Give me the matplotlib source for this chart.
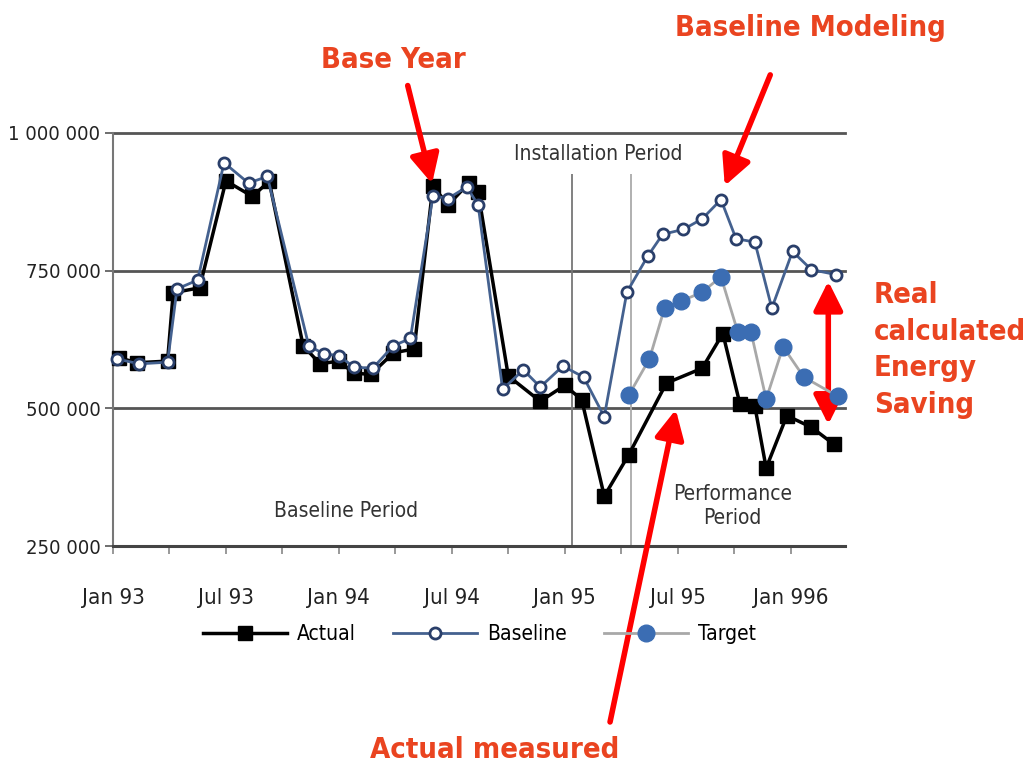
import matplotlib.pyplot as plt

# months since Jan 1993
base_x = [0.2, 1.4, 2.9, 3.4, 4.5, 5.9, 7.2, 8.2, 10.4, 11.2, 12.0, 12.8, 13.8,
          14.9, 15.8, 17.0, 17.8, 18.8, 19.4, 20.7, 21.8, 22.7, 23.9, 25.0,
          26.1, 27.3, 28.4, 29.2, 30.3, 31.3, 32.3, 33.1, 34.1, 35.0, 36.1,
          37.1, 38.4]
baseline = [590000, 581000, 584000, 717000, 733000, 946000, 909000, 921000,
            614000, 599000, 596000, 575000, 573000, 614000, 627000, 886000,
            881000, 902000, 869000, 535000, 570000, 539000, 577000, 557000,
            485000, 711000, 776000, 816000, 825000, 844000, 879000, 808000,
            802000, 682000, 785000, 752000, 743000]

act_x = [0.3, 1.3, 2.9, 3.2, 4.6, 6.0, 7.4, 8.3, 10.1, 11.0, 12.0, 12.8, 13.7,
         14.9, 16.0, 17.0, 17.8, 18.9, 19.4, 21.0, 22.7, 24.0, 24.9, 26.1,
         27.4, 29.4, 31.3, 32.4, 33.3, 34.1, 34.7, 35.8, 37.1, 38.3]
actual = [592000, 583000, 586000, 710000, 719000, 913000, 885000, 912000,
          614000, 581000, 586000, 564000, 562000, 601000, 608000, 904000,
          869000, 909000, 892000, 559000, 513000, 542000, 516000, 341000,
          416000, 546000, 573000, 636000, 509000, 504000, 392000, 487000,
          466000, 435000]

tgt_x = [27.4, 28.5, 29.3, 30.2, 31.3, 32.3, 33.2, 33.9, 34.7, 35.6, 36.7, 38.5]
target = [524000, 590000, 682000, 695000, 711000, 739000, 638000, 638000,
          517000, 612000, 557000, 522000]

tick_labels = ["Jan 93", "Jul 93", "Jan 94", "Jul 94", "Jan 95", "Jul 95", "Jan 996"]
y_ticks = [250000, 500000, 750000, 1000000]
y_labels = ["250 000", "500 000", "750 000", "1 000 000"]

narrow = dict(family="DejaVu Sans", stretch="condensed")
red_txt = "#ea4420"
red_font = dict(family="DejaVu Sans", stretch="condensed", fontweight="bold",
                fontsize=21, color=red_txt)

fig = plt.figure(figsize=(10.27, 7.64), dpi=100)
ax = fig.add_axes([0.110, 0.285, 0.713, 0.541])

for v in [500000, 750000, 1000000]:
    ax.axhline(v, color="#555555", lw=2, zorder=1, clip_on=False)
ax.vlines(24.4, 250000, 925000, color="#777777", lw=1.3, zorder=1)
ax.vlines(27.5, 250000, 925000, color="#aaaaaa", lw=1.3, zorder=1)

ax.plot(act_x, actual, color="black", lw=2.5, marker="s", ms=10,
        mfc="black", mec="black", label="Actual", zorder=3, clip_on=False)
ax.plot(tgt_x, target, color="#a8a8a8", lw=2, marker="o", ms=12,
        mfc="#3b6db3", mec="#3b6db3", label="Target", zorder=4, clip_on=False)
ax.plot(base_x, baseline, color="#44618f", lw=2, marker="o", ms=8,
        mfc="white", mec="#2a3f6a", mew=2, label="Baseline", zorder=5,
        clip_on=False)

ax.set_xlim(0, 38.9)
ax.set_ylim(250000, 1000000)
ax.set_xticks(range(0, 37, 6))
ax.set_xticklabels(tick_labels, fontsize=16, color="#222222", **narrow)
ax.set_xticks(range(0, 37, 3), minor=True)
ax.set_yticks(y_ticks)
ax.set_yticklabels(y_labels, fontsize=14.5, color="#222222", **narrow)
ax.tick_params(axis="x", which="both", length=6, width=1.2, color="#888888", pad=24)
ax.tick_params(axis="y", length=6, width=1.2, color="#555555", pad=3)

for s in ["top", "right"]:
    ax.spines[s].set_visible(False)
ax.spines["left"].set_color("#777777")
ax.spines["left"].set_linewidth(1.5)
ax.spines["bottom"].set_color("#444444")
ax.spines["bottom"].set_linewidth(2.2)

ax.text(25.8, 962000, "Installation Period", ha="center", va="center",
        fontsize=15, color="#333333", **narrow)
ax.text(12.4, 314000, "Baseline Period", ha="center", va="center",
        fontsize=15, color="#333333", **narrow)
ax.text(32.9, 323000, "Performance\nPeriod", ha="center", va="center",
        fontsize=15, color="#333333", linespacing=1.25, **narrow)

# legend: order Actual, Baseline, Target
h, l = ax.get_legend_handles_labels()
order = [0, 2, 1]
fig.legend([h[i] for i in order], [l[i] for i in order], loc="center",
           bbox_to_anchor=(0.467, 0.170), ncol=3, frameon=False,
           prop={"family": "DejaVu Sans", "stretch": "condensed", "size": 15},
           handlelength=4.0, columnspacing=1.8, handletextpad=0.5)

# red annotations
fig.text(0.383, 0.921, "Base Year", ha="center", va="center", **red_font)
fig.text(0.789, 0.963, "Baseline Modeling", ha="center", va="center", **red_font)
fig.text(0.851, 0.542, "Real\ncalculated\nEnergy\nSaving", ha="left",
         va="center", linespacing=1.39, **red_font)
fig.text(0.482, 0.018, "Actual measured", ha="center", va="center", **red_font)

arrow = dict(arrowstyle="-|>,head_length=0.8,head_width=0.4", color="red",
             lw=4, mutation_scale=22, shrinkA=0, shrinkB=0)
ax.annotate("", xy=(16.95, 908000), xytext=(0.397, 0.888),
            textcoords="figure fraction", arrowprops=arrow)
ax.annotate("", xy=(32.5, 904000), xytext=(0.750, 0.902),
            textcoords="figure fraction", arrowprops=arrow)
ax.annotate("", xy=(29.9, 498000), xytext=(0.594, 0.055),
            textcoords="figure fraction", arrowprops=arrow, annotation_clip=False)
dbl = dict(arrowstyle="<|-|>,head_length=0.8,head_width=0.4", color="red",
           lw=4, mutation_scale=22, shrinkA=0, shrinkB=0)
ax.annotate("", xy=(38.0, 731000), xytext=(38.0, 471000), arrowprops=dbl)

fig.savefig("out.png", dpi=100)
